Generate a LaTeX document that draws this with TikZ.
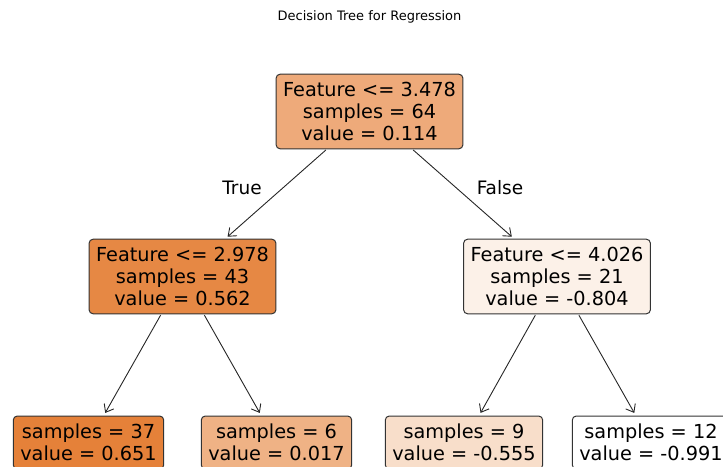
\documentclass[tikz,border=0pt]{standalone}
\usepackage{fontspec}
\setmainfont{DejaVu Sans}
\usetikzlibrary{arrows.meta}
% fills follow the node value, white (min) to orange (max)
\definecolor{rootfill}{RGB}{238,170,122}
\definecolor{leftfill}{RGB}{230,136,68}
\definecolor{rightfill}{RGB}{252,241,232}
\definecolor{llfill}{RGB}{229,129,57}
\definecolor{lrfill}{RGB}{239,178,133}
\definecolor{rlfill}{RGB}{248,222,202}
\definecolor{rrfill}{RGB}{255,255,255}

\begin{document}
\begin{tikzpicture}[x=1pt,y=-1pt,
    split/.style={draw=black!80, line width=1pt, rounded corners=4pt, align=center, inner xsep=7pt, inner ysep=8pt, font=\fontsize{19.3}{22}\selectfont},
    edge/.style={-{Straight Barb[length=7pt,width=11pt]}, draw=black!85, line width=0.9pt, shorten >=3pt, shorten <=1pt},
    lbl/.style={font=\fontsize{18.5}{22}\selectfont}]
            \path[use as bounding box, clip] (0,0) rectangle (723,466);
            \node[font=\fontsize{13}{15}\selectfont] (title) at (369.5,17) {Decision Tree for Regression};
            % split nodes
            \node[split, fill=rootfill] (root) at (369.5,111.5) {Feature <= 3.478\\samples = 64\\value = 0.114};
            \node[split, fill=leftfill] (left) at (182.5,276.5) {Feature <= 2.978\\samples = 43\\value = 0.562};
            \node[split, fill=rightfill] (right) at (557,276.5) {Feature <= 4.026\\samples = 21\\value = -0.804};
            % leaves
            \node[split, fill=llfill] (ll) at (88.5,442.5) {samples = 37\\value = 0.651};
            \node[split, fill=lrfill] (lr) at (276.5,442.5) {samples = 6\\value = 0.017};
            \node[split, fill=rlfill] (rl) at (464,442.5) {samples = 9\\value = -0.555};
            \node[split, fill=rrfill] (rr) at (651,442.5) {samples = 12\\value = -0.991};
            \draw[edge] (root) -- (left);
            \draw[edge] (root) -- (right);
            \draw[edge] (left) -- (ll);
            \draw[edge] (left) -- (lr);
            \draw[edge] (right) -- (rl);
            \draw[edge] (right) -- (rr);
            \node[lbl] (true) at (242,188) {True};
            \node[lbl] (false) at (500,188) {False};
        \end{tikzpicture}
\end{document}
